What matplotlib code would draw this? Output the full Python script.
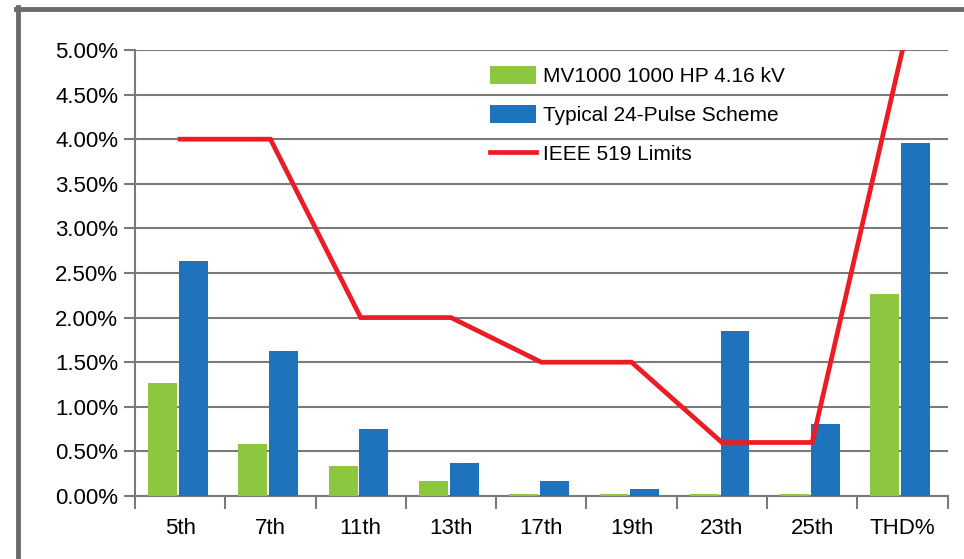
import matplotlib.pyplot as plt
import numpy as np
from matplotlib.lines import Line2D
from matplotlib.ticker import FuncFormatter

plt.rcParams['font.family'] = ['Liberation Sans', 'DejaVu Sans']

categories = ['5th', '7th', '11th', '13th', '17th', '19th', '23th', '25th', 'THD%']
mv1000 = [1.27, 0.58, 0.34, 0.17, 0.02, 0.02, 0.02, 0.02, 2.27]
pulse24 = [2.63, 1.63, 0.75, 0.37, 0.17, 0.08, 1.85, 0.81, 3.96]
ieee519 = [4.0, 4.0, 2.0, 2.0, 1.5, 1.5, 0.6, 0.6, 5.0]

green = '#8dc63f'
blue = '#1f73bc'
red = '#ed1c24'
gray = '#7a7a7a'

fig = plt.figure(figsize=(9.64, 5.59), dpi=100)
ax = fig.add_axes([0.140, 0.1127, 0.843, 0.7979])

x = np.arange(len(categories))
w = 0.32
b1 = ax.bar(x - 0.195, mv1000, w, color=green, label='MV1000 1000 HP 4.16 kV', zorder=3)
b2 = ax.bar(x + 0.145, pulse24, w, color=blue, label='Typical 24-Pulse Scheme', zorder=3)
l1, = ax.plot(x, ieee519, color=red, lw=3.4, label='IEEE 519 Limits', zorder=4,
              solid_joinstyle='miter')

ax.set_xlim(-0.5, len(categories) - 0.5)
ax.set_ylim(0, 5.0)
ax.set_yticks(np.arange(0, 5.01, 0.5))
ax.yaxis.set_major_formatter(FuncFormatter(lambda v, p: '%.2f%%' % v))
ax.set_xticks(x)
ax.set_xticklabels(categories)
ax.set_xticks(np.arange(-0.5, len(categories), 1), minor=True)
ax.tick_params(axis='x', which='major', length=0, pad=16, labelsize=16)
ax.tick_params(axis='x', which='minor', length=9, width=1.5, color=gray)
ax.tick_params(axis='y', length=8, width=1.5, color=gray, labelsize=16, pad=4)

ax.grid(axis='y', color=gray, lw=1.5, zorder=0)
for s in ['top', 'right']:
    ax.spines[s].set_visible(False)
for s in ['left', 'bottom']:
    ax.spines[s].set_color(gray)
    ax.spines[s].set_linewidth(1.5)

leg = ax.legend([b1, b2, l1], [b1.get_label(), b2.get_label(), l1.get_label()],
                loc='upper left', bbox_to_anchor=(0.5, 0.897),
                bbox_transform=fig.transFigure, frameon=False, fontsize=15,
                handlelength=2.2, handleheight=0.95, labelspacing=0.9,
                handletextpad=0.35, borderaxespad=0)

# grey frame on top and left
fig.add_artist(Line2D([16 / 964, 1], [1 - 9 / 559, 1 - 9 / 559], color='#6b6b6b',
                      lw=3.5, transform=fig.transFigure))
fig.add_artist(Line2D([18 / 964, 18 / 964], [0, 1 - 7 / 559], color='#6b6b6b',
                      lw=3.5, transform=fig.transFigure))

plt.savefig('out.png', dpi=100)
